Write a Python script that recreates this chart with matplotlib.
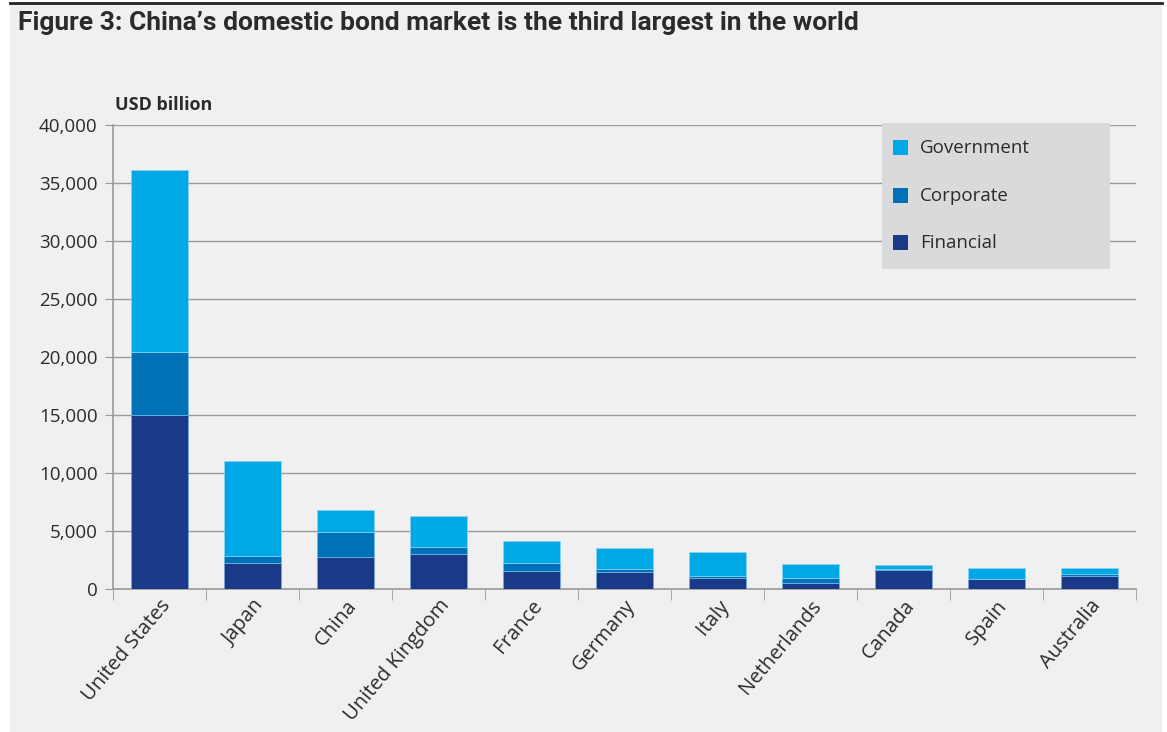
import numpy as np
import matplotlib
matplotlib.use("Agg")
from matplotlib import pyplot as plt
from matplotlib.patches import Rectangle

# data (USD billion)
countries = ["United States", "Japan", "China", "United Kingdom", "France", "Germany",
             "Italy", "Netherlands", "Canada", "Spain", "Australia"]
financial = [15000, 2200, 2800, 3000, 1550, 1500, 970, 550, 1650, 820, 1100]
corporate = [5400, 640, 2100, 600, 650, 200, 130, 420, 50, 30, 200]
government = [15700, 8200, 1900, 2700, 1950, 1800, 2100, 1180, 400, 1000, 550]
series_names = ["Government", "Corporate", "Financial"]

c_gov = "#00a9e5"
c_corp = "#0071b8"
c_fin = "#1b3989"
bg = "#eff0ef"
grid_c = "#9a9a9a"
txt = "#2b2b2b"

plt.rcParams['font.family'] = ['Open Sans', 'DejaVu Sans']

W, H = 1167, 732
fig = plt.figure(figsize=(W / 100, H / 100), dpi=100)
fig.patch.set_facecolor("white")
# grey panel behind everything + dark rule at the top
fig.patches.append(Rectangle((10 / W, 0), 1152 / W, 1 - 4 / H,
                             transform=fig.transFigure, facecolor=bg, edgecolor="none", zorder=-10))
fig.add_artist(plt.Line2D([10 / W, 1162 / W], [1 - 2.5 / H] * 2,
                          transform=fig.transFigure, color="#222222", lw=2))

ax = fig.add_axes([113 / W, 1 - 589 / H, 1023 / W, 464 / H])
ax.set_facecolor(bg)

x = np.arange(len(countries))
fin = np.array(financial)
corp = np.array(corporate)
gov = np.array(government)
w = 0.61
ax.bar(x, fin, w, color=c_fin, edgecolor="#6fa9dc", linewidth=0.5, zorder=3)
ax.bar(x, corp, w, bottom=fin, color=c_corp, edgecolor="#6fc0ea", linewidth=0.5, zorder=3)
ax.bar(x, gov, w, bottom=fin + corp, color=c_gov, edgecolor="#8fd3f3", linewidth=0.5, zorder=3)

ax.set_xlim(-0.5, len(countries) - 0.5)
ax.set_ylim(0, 40000)
ax.set_yticks(np.arange(0, 40001, 5000))
ax.set_yticklabels([f"{v:,}" for v in range(0, 40001, 5000)], fontsize=13.5, color=txt)
ax.yaxis.grid(True, color=grid_c, lw=1, zorder=0)
ax.tick_params(axis="y", length=6, color=grid_c, pad=5)

ax.set_xticks(x)
ax.set_xticklabels(countries, rotation=50, ha="right", rotation_mode="anchor",
                   fontsize=14.5, color=txt)
ax.tick_params(axis="x", which="major", length=0, pad=5)
ax.set_xticks(np.arange(-0.5, len(countries)), minor=True)
ax.tick_params(axis="x", which="minor", length=8, color=grid_c)

for s in ["top", "right"]:
    ax.spines[s].set_visible(False)
for s in ["left", "bottom"]:
    ax.spines[s].set_color(grid_c)
    ax.spines[s].set_linewidth(1.2)

fig.text(115 / W, 1 - 105 / H, "USD billion", fontsize=13,
         fontweight="bold", color=txt, ha="left", va="center")

fig.text(18 / W, 1 - 23 / H, "Figure 3: China’s domestic bond market is the third largest in the world",
         fontsize=19, fontweight="bold", color=txt, ha="left", va="center",
         family=["Roboto", "DejaVu Sans"])

# legend box drawn by hand to match the reference layout
fig.patches.append(Rectangle((882 / W, 1 - 269 / H), 228 / W, 146 / H,
                             transform=fig.transFigure, facecolor="#d9dadb",
                             edgecolor="none", zorder=5))
for name, col, yy in zip(series_names, [c_gov, c_corp, c_fin], [147, 195, 242]):
    fig.patches.append(Rectangle((893 / W, 1 - (yy + 7.5) / H), 15 / W, 15 / H,
                                 transform=fig.transFigure, facecolor=col,
                                 edgecolor="none", zorder=6))
    fig.text(920 / W, 1 - (yy + 1) / H, name, fontsize=13.5, color=txt,
             ha="left", va="center", zorder=7)

fig.savefig("out.png", dpi=100, facecolor=fig.get_facecolor())
